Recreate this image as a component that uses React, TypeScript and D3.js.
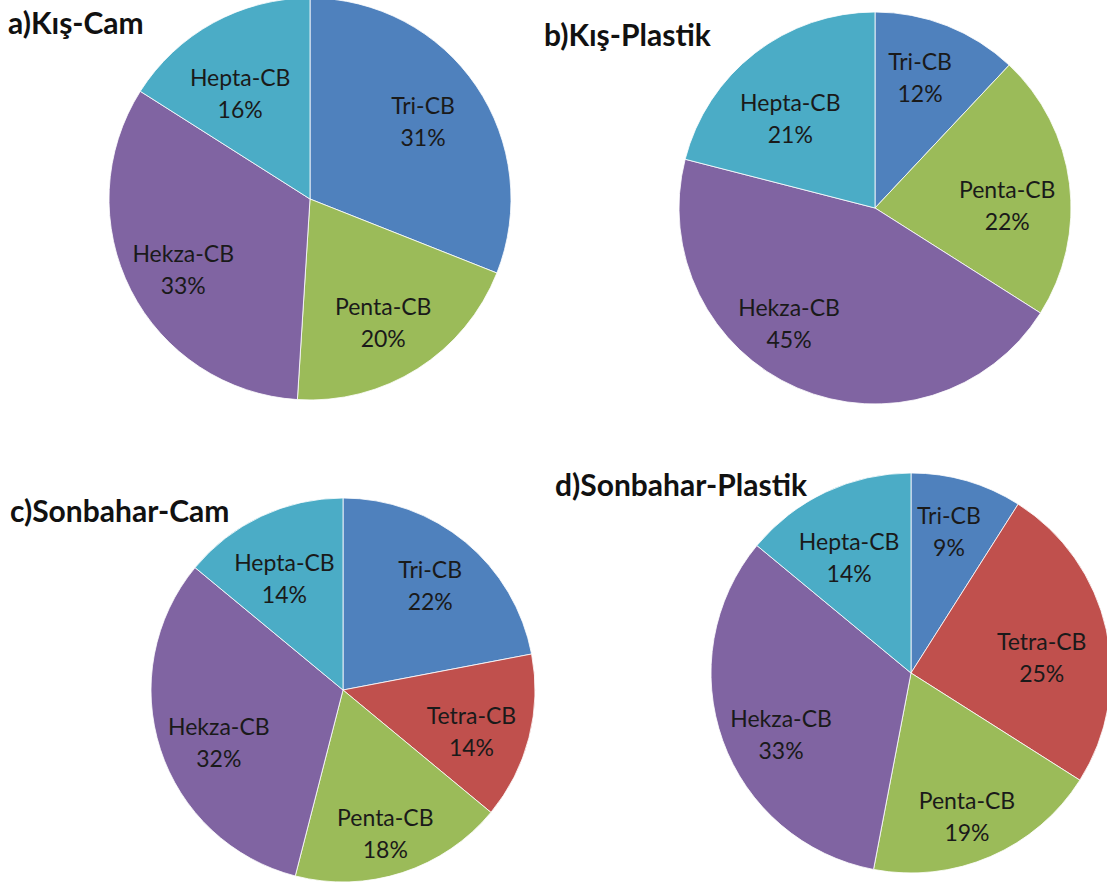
import React from "react";
import * as d3 from "d3";

// PCB homolog groups and their colours
const groups = ["Tri-CB", "Tetra-CB", "Penta-CB", "Hekza-CB", "Hepta-CB"];
const groupColors = ["#4F81BD", "#C0504D", "#9BBB59", "#8064A2", "#4BACC6"];

// Percent shares per panel (order: Tri, Tetra, Penta, Hekza, Hepta); 0 = absent
const kisCam = [31, 0, 20, 33, 16];
const kisPlastik = [12, 0, 22, 45, 21];
const sonbaharCam = [22, 14, 18, 32, 14];
const sonbaharPlastik = [9, 25, 19, 33, 14];

const panelTitles = ["a)Kış-Cam", "b)Kış-Plastik", "c)Sonbahar-Cam", "d)Sonbahar-Plastik"];
const panelValues = [kisCam, kisPlastik, sonbaharCam, sonbaharPlastik];

// Panel placement: pie centre, radius and title anchor
const panelLayout = [
  { cx: 310, cy: 199, r: 201, tx: 8, ty: 34 },
  { cx: 875, cy: 208, r: 196, tx: 544, ty: 46 },
  { cx: 343, cy: 690, r: 192, tx: 10, ty: 522 },
  { cx: 911, cy: 673, r: 200, tx: 555, ty: 496 },
];

// Small label nudges (px) away from the arc centroid, per panel and group
const labelNudge: Record<string, [number, number]>[] = [
  { "Tri-CB": [0, -3], "Hepta-CB": [-4, 12], "Hekza-CB": [-5, 6], "Penta-CB": [0, 6] },
  { "Tri-CB": [-4, -9], "Hepta-CB": [-3, 13], "Penta-CB": [0, 12], "Hekza-CB": [-33, -9] },
  { "Tri-CB": [4, -6], "Hepta-CB": [-3, 4], "Tetra-CB": [2, 7], "Hekza-CB": [0, 10], "Penta-CB": [2, 17] },
  { "Tri-CB": [0, -13], "Hepta-CB": [-4, 5], "Tetra-CB": [-2, 12], "Hekza-CB": [-2, 13], "Penta-CB": [2, 16] },
];

const FONT = "Lato, 'Open Sans', sans-serif";

type Slice = { name: string; value: number; color: string };

function Pie({
  values,
  layout,
  title,
  nudge,
}: {
  values: number[];
  layout: typeof panelLayout[0];
  title: string;
  nudge: Record<string, [number, number]>;
}) {
  const data: Slice[] = groups
    .map((g, i) => ({ name: g, value: values[i], color: groupColors[i] }))
    .filter((d) => d.value > 0);
  const pie = d3.pie<Slice>().value((d) => d.value).sort(null);
  const arcs = pie(data);
  const arc = d3.arc<d3.PieArcDatum<Slice>>().innerRadius(0).outerRadius(layout.r);
  const labelArc = d3
    .arc<d3.PieArcDatum<Slice>>()
    .innerRadius(layout.r * 0.68)
    .outerRadius(layout.r * 0.68);
  return (
    <g>
      <g transform={`translate(${layout.cx},${layout.cy})`}>
        {arcs.map((a) => (
          <path
            key={a.data.name}
            d={arc(a) || ""}
            fill={a.data.color}
            stroke="#ffffff"
            strokeWidth={1}
            strokeOpacity={0.8}
          />
        ))}
        {arcs.map((a) => {
          const [cx, cy] = labelArc.centroid(a);
          const [nx, ny] = nudge[a.data.name] || [0, 0];
          const x = cx + nx;
          const y = cy + ny;
          return (
            <text
              key={a.data.name + "-l"}
              x={x}
              y={y}
              textAnchor="middle"
              fontFamily={FONT}
              fontSize={23}
              fill="#1a1a1a"
            >
              <tspan x={x} dy={-5}>{a.data.name}</tspan>
              <tspan x={x} dy={32}>{`${a.data.value}%`}</tspan>
            </text>
          );
        })}
      </g>
      <text x={layout.tx} y={layout.ty} fontFamily={FONT} fontWeight={700} fontSize={30} fill="#111">
        {title}
      </text>
    </g>
  );
}

export default function App() {
  return (
    <svg
      width={1107}
      height={886}
      viewBox="0 0 1107 886"
      style={{ position: "absolute", left: 0, top: 0, background: "#fff" }}
    >
      {panelValues.map((v, i) => (
        <Pie key={i} values={v} layout={panelLayout[i]} title={panelTitles[i]} nudge={labelNudge[i]} />
      ))}
    </svg>
  );
}
